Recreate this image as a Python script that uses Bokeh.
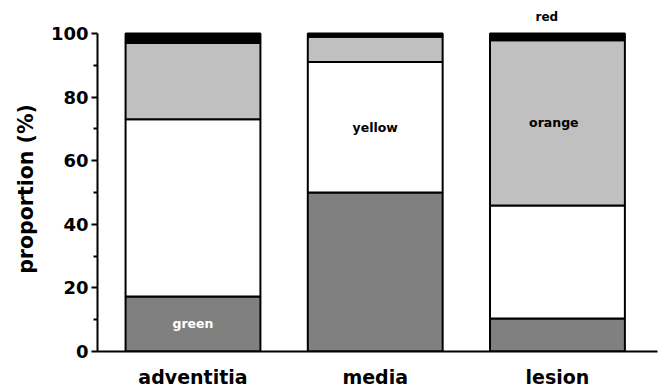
from bokeh.plotting import figure
from bokeh.models import Range1d, FixedTicker, ColumnDataSource, Title
from bokeh.core.properties import value
from bokeh.embed import file_html
from bokeh.resources import INLINE

# Stacked proportions (%) per tissue layer
categories = ["adventitia", "media", "lesion"]
positions = [1, 2, 3]
green = [17.3, 50.0, 10.4]
yellow = [55.7, 41.0, 35.5]
orange = [24.0, 8.0, 52.0]
red = [3.0, 1.0, 2.1]

y_ticks = [0, 20, 40, 60, 80, 100]
y_minor = [10, 30, 50, 70, 90]

FONT = "DejaVu Sans"

source = ColumnDataSource(dict(
    x=positions, green=green, yellow=yellow, orange=orange, red=red,
))

p = figure(
    width=662, height=390,
    x_range=Range1d(0.476, 3.549), y_range=Range1d(0, 102.2),
    output_backend="svg", toolbar_location=None,
    min_border_left=97, min_border_right=5,
    min_border_top=26, min_border_bottom=39,
)

p.vbar_stack(
    ["green", "yellow", "orange", "red"], x="x", width=0.74, source=source,
    fill_color=["#808080", "#ffffff", "#c0c0c0", "#000000"],
    line_color="black", line_width=2,
)

# In-bar labels, placed at the middle of their segments
g_y = green[0] / 2
y_y = green[1] + yellow[1] / 2
o_y = green[2] + yellow[2] + orange[2] / 2

p.text(x=[positions[0]], y=[g_y], text=["green"], text_color="white",
       text_font=value(FONT), text_font_style="bold", text_font_size="12.5px",
       text_align="center", text_baseline="middle")
p.text(x=[positions[1]], y=[y_y], text=["yellow"], text_color="black",
       text_font=value(FONT), text_font_style="bold", text_font_size="12.5px",
       text_align="center", text_baseline="middle")
p.text(x=[positions[2] - 0.02], y=[o_y], text=["orange"], text_color="black",
       text_font=value(FONT), text_font_style="bold", text_font_size="12.5px",
       text_align="center", text_baseline="middle")

# "red" sits above the lesion bar, in the top panel above the frame
p.add_layout(Title(text="red", text_font=FONT, text_font_style="bold",
                   text_font_size="12px", text_color="black",
                   align="left", offset=438, standoff=6), "above")

p.grid.visible = False
p.outline_line_color = None
p.background_fill_color = "white"
p.border_fill_color = "white"

# y axis
ya = p.yaxis[0]
ya.ticker = FixedTicker(ticks=y_ticks, minor_ticks=y_minor)
ya.bounds = (0, 100)
ya.axis_label = "proportion (%)"
ya.axis_label_text_font = FONT
ya.axis_label_text_font_style = "bold"
ya.axis_label_text_font_size = "20.5px"
ya.axis_label_text_color = "black"
ya.axis_label_standoff = 10
ya.major_label_text_font = FONT
ya.major_label_text_font_style = "bold"
ya.major_label_text_font_size = "18px"
ya.major_label_text_color = "black"
ya.major_label_standoff = 3
ya.axis_line_width = 2
ya.major_tick_line_width = 2
ya.major_tick_out = 6
ya.major_tick_in = 0
ya.minor_tick_line_width = 2
ya.minor_tick_out = 4
ya.minor_tick_in = 0

# x axis
xa = p.xaxis[0]
xa.ticker = FixedTicker(ticks=positions, minor_ticks=[])
xa.major_label_overrides = {pos: name for pos, name in zip(positions, categories)}
xa.major_label_text_font = FONT
xa.major_label_text_font_style = "bold"
xa.major_label_text_font_size = "19px"
xa.major_label_text_color = "black"
xa.major_label_standoff = 14
xa.major_tick_line_color = None
xa.major_tick_out = 0
xa.minor_tick_line_color = None
xa.axis_line_width = 2

open("out.html", "w").write(file_html(p, INLINE))
